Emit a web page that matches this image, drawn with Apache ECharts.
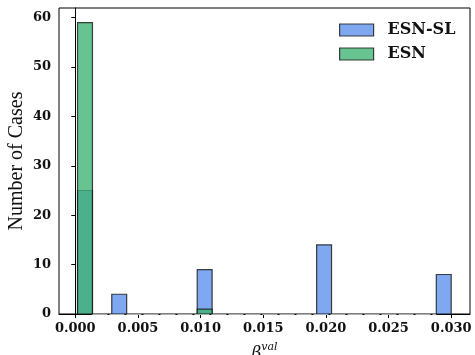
<!DOCTYPE html>
<html>
<head>
<meta charset="utf-8">
<script src="https://cdn.jsdelivr.net/npm/echarts@6/dist/echarts.min.js"></script>
<style>
html,body{margin:0;padding:0;background:#fff;}
#c{width:475px;height:355px;}
</style>
</head>
<body>
<div id="c"></div>
<script>
// Histogram bins (left edges of non-empty bins), shared bin width
const binWidth = 0.00119;
const esnslLeft = [0.00018, 0.00291, 0.00973, 0.01926, 0.02881];
const esnslCounts = [25, 4, 9, 14, 8];
const esnLeft = [0.00018, 0.00973];
const esnCounts = [59, 1];
const xTicks = [0, 0.005, 0.010, 0.015, 0.020, 0.025, 0.030];
const yTicks = [0, 10, 20, 30, 40, 50, 60];
const seriesNames = ['ESN-SL', 'ESN'];

const blueFill = 'rgba(100,149,237,0.82)';
const greenFill = 'rgba(60,179,113,0.78)';
const edge = 'rgba(20,20,20,0.8)';

function toData(lefts, counts) {
  return lefts.map((l, i) => [l, l + binWidth, counts[i]]);
}
function makeRender(fill) {
  return function (params, api) {
    const p0 = api.coord([api.value(0), api.value(2)]);
    const p1 = api.coord([api.value(1), 0]);
    return {
      type: 'rect',
      shape: { x: p0[0], y: p0[1], width: p1[0] - p0[0], height: p1[1] - p0[1] },
      style: { fill: fill, stroke: edge, lineWidth: 1.2 }
    };
  };
}

const chart = echarts.init(document.getElementById('c'), null, { renderer: 'canvas' });
chart.setOption({
  animation: false,
  backgroundColor: '#fff',
  grid: { left: 59, right: 5, top: 8, bottom: 41, containLabel: false, outerBoundsMode: 'none', show: true, borderColor: '#000', borderWidth: 1, backgroundColor: 'transparent' },
  legend: {
    data: seriesNames.map(n => ({ name: n, icon: 'rect' })),
    orient: 'vertical',
    left: 339,
    top: 22,
    padding: 0,
    itemWidth: 34,
    itemHeight: 12,
    itemGap: 8,
    textStyle: { fontFamily: 'DejaVu Serif', fontWeight: 'bold', fontSize: 16, color: '#111', padding: [0, 0, 0, 9] },
    itemStyle: { borderWidth: 1.2, borderColor: edge }
  },
  xAxis: {
    type: 'value',
    min: -0.0013,
    max: 0.0315,
    axisLine: { show: true, onZero: false, lineStyle: { color: '#000', width: 1 } },
    axisTick: { show: true, length: 4, lineStyle: { color: '#000' }, customValues: xTicks },
    axisLabel: {
      customValues: xTicks,
      formatter: v => v.toFixed(3),
      fontFamily: 'DejaVu Serif', fontWeight: 'bold', fontSize: 13, color: '#111', margin: 8
    },
    splitLine: { show: false },
    name: '{b|β}{s|val}',
    nameLocation: 'middle',
    nameGap: 28,
    nameMoveOverlap: false,
    nameTextStyle: {
      rich: {
        b: { fontFamily: 'DejaVu Serif', fontStyle: 'italic', fontSize: 17, color: '#111', verticalAlign: 'bottom', lineHeight: 20 },
        s: { fontFamily: 'DejaVu Serif', fontStyle: 'italic', fontSize: 11, color: '#111', verticalAlign: 'top', lineHeight: 20 }
      }
    }
  },
  yAxis: {
    type: 'value',
    min: 0,
    max: 61.95,
    axisLine: { show: true, lineStyle: { color: '#000', width: 1 } },
    axisTick: { show: true, length: 4, lineStyle: { color: '#000' }, customValues: yTicks },
    axisLabel: {
      customValues: yTicks,
      fontFamily: 'DejaVu Serif', fontWeight: 'bold', fontSize: 13, color: '#111', margin: 8
    },
    splitLine: { show: false },
    name: 'Number of Cases',
    nameLocation: 'middle',
    nameGap: 32,
    nameMoveOverlap: false,
    nameRotate: 90,
    nameTextStyle: { fontFamily: 'Liberation Serif', fontSize: 20, color: '#111' }
  },
  series: [
    {
      name: 'ESN-SL',
      type: 'custom',
      renderItem: makeRender(blueFill),
      itemStyle: { color: blueFill, borderColor: edge, borderWidth: 1.2 },
      encode: { x: [0, 1], y: 2 },
      data: toData(esnslLeft, esnslCounts),
      markLine: {
        silent: true,
        symbol: 'none',
        label: { show: false },
        lineStyle: { color: '#b0b0b0', width: 1.2, type: [15, 2] },
        data: [[{ coord: [0.00137, 0] }, { coord: [0.0288, 0] }]]
      },
      z: 2
    },
    {
      name: 'ESN',
      type: 'custom',
      renderItem: makeRender(greenFill),
      itemStyle: { color: greenFill, borderColor: edge, borderWidth: 1.2 },
      encode: { x: [0, 1], y: 2 },
      data: toData(esnLeft, esnCounts),
      z: 3
    }
  ]
});
</script>
</body>
</html>
